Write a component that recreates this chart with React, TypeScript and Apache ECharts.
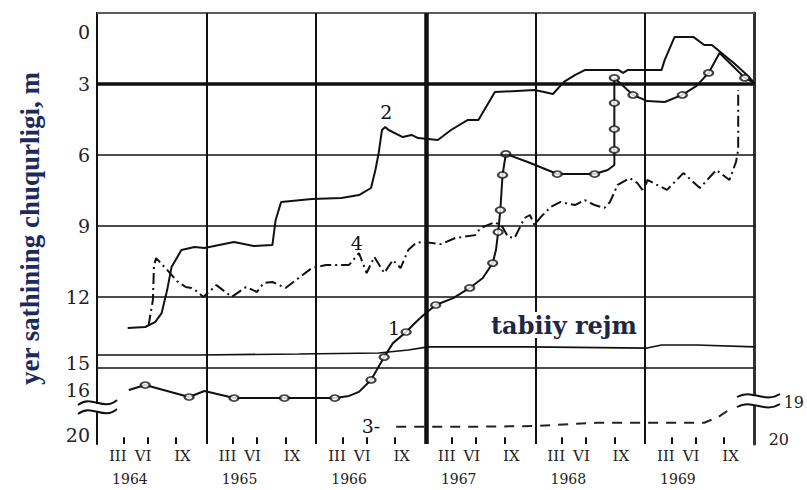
import React, { useEffect, useRef } from "react";
import * as echarts from "echarts";

// ---------- data (x = decimal year, y = depth of groundwater, m) ----------
const years = [1964, 1965, 1966, 1967, 1968, 1969];
const monthLabels = ["III", "VI", "IX"];
const yTickLabels = ["0", "3", "6", "9", "12", "15", "16", "20"];
const yRightLabels = ["19", "20"];

// curve 2 (solid)
const line2 = [
  [1964.28, 13.3], [1964.44, 13.26], [1964.53, 13.05], [1964.59, 12.67], [1964.64, 11.7],
  [1964.68, 10.73], [1964.77, 10.01], [1964.89, 9.88], [1964.98, 9.92], [1965.25, 9.67],
  [1965.43, 9.84], [1965.6, 9.8], [1965.63, 8.74], [1965.68, 7.98], [1965.96, 7.85],
  [1966.23, 7.81], [1966.39, 7.69], [1966.5, 7.39], [1966.54, 6.63], [1966.57, 5.91],
  [1966.6, 4.94], [1966.63, 4.81], [1966.66, 4.94], [1966.79, 5.24], [1966.87, 5.15],
  [1966.93, 5.28], [1967.11, 5.36], [1967.23, 4.94], [1967.38, 4.52], [1967.48, 4.52],
  [1967.63, 3.34], [1967.99, 3.25], [1968.08, 3.34], [1968.16, 3.42], [1968.26, 2.91],
  [1968.36, 2.62], [1968.45, 2.41], [1968.76, 2.41], [1968.8, 2.53], [1968.84, 2.41],
  [1969.15, 2.41], [1969.18, 1.98], [1969.27, 1.01], [1969.44, 1.01], [1969.54, 1.35],
  [1969.61, 1.35], [1969.72, 1.77], [1969.81, 2.11], [1969.93, 2.62], [1970.0, 2.96],
];

// curve 4 (dash-dot)
const line4 = [
  [1964.47, 13.2], [1964.51, 12.12], [1964.52, 10.64], [1964.54, 10.35], [1964.64, 10.85],
  [1964.73, 11.32], [1964.81, 11.57], [1964.86, 11.61], [1964.92, 11.78], [1964.97, 11.99],
  [1965.09, 11.49], [1965.23, 11.99], [1965.36, 11.57], [1965.46, 11.78], [1965.52, 11.4],
  [1965.6, 11.36], [1965.72, 11.61], [1965.84, 11.19], [1965.96, 10.77], [1966.09, 10.64],
  [1966.3, 10.64], [1966.39, 10.14], [1966.46, 10.98], [1966.53, 10.3], [1966.62, 10.98],
  [1966.7, 10.43], [1966.77, 10.77], [1966.84, 10.01], [1966.91, 9.71], [1966.98, 9.67],
  [1967.14, 9.76], [1967.27, 9.5], [1967.45, 9.38], [1967.5, 9.08], [1967.63, 8.83],
  [1967.7, 9.04], [1967.75, 9.46], [1967.81, 9.5], [1967.9, 8.66], [1967.95, 8.53],
  [1967.99, 8.95], [1968.05, 8.61], [1968.14, 8.19], [1968.23, 7.98], [1968.36, 8.11],
  [1968.45, 7.9], [1968.54, 8.11], [1968.63, 8.23], [1968.68, 7.98], [1968.75, 7.26],
  [1968.86, 6.97], [1968.93, 7.18], [1968.99, 7.56], [1969.02, 7.05], [1969.2, 7.47],
  [1969.35, 6.76], [1969.5, 7.39], [1969.65, 6.63], [1969.77, 7.05], [1969.83, 6.29],
  [1969.85, 5.78], [1969.85, 3.25],
];

// curve 1 (solid with observation circles)
const line1 = [
  [1964.29, 16.02], [1964.44, 15.79], [1964.84, 16.35], [1964.98, 16.07], [1965.25, 16.4],
  [1965.71, 16.4], [1966.17, 16.4], [1966.3, 16.3], [1966.39, 16.11], [1966.5, 15.55],
  [1966.62, 14.53], [1966.7, 13.94], [1966.82, 13.47], [1966.91, 13.05], [1966.98, 12.75],
  [1967.09, 12.33], [1967.25, 12.04], [1967.4, 11.61], [1967.52, 11.19], [1967.61, 10.56],
  [1967.64, 10.01], [1967.66, 9.25], [1967.68, 8.32], [1967.7, 6.84], [1967.73, 5.95],
  [1967.93, 6.29], [1968.2, 6.8], [1968.54, 6.8], [1968.66, 6.63], [1968.72, 6.42],
  [1968.72, 5.78], [1968.72, 4.9], [1968.72, 3.8], [1968.72, 2.74], [1968.89, 3.46],
  [1969.02, 3.72], [1969.18, 3.76], [1969.34, 3.46], [1969.47, 3.08], [1969.58, 2.53],
  [1969.68, 1.69], [1969.81, 2.28], [1969.91, 2.74], [1970.0, 2.96],
];
const line1Obs = [
  [1964.44, 15.79], [1964.84, 16.35], [1965.25, 16.4], [1965.71, 16.4], [1966.17, 16.4],
  [1966.5, 15.55], [1966.62, 14.53], [1966.82, 13.47], [1967.09, 12.33], [1967.4, 11.61],
  [1967.61, 10.56], [1967.66, 9.25], [1967.68, 8.32], [1967.7, 6.84], [1967.73, 5.95],
  [1968.2, 6.8], [1968.54, 6.8], [1968.72, 5.78], [1968.72, 4.9], [1968.72, 3.8],
  [1968.72, 2.74], [1968.89, 3.46], [1969.34, 3.46], [1969.58, 2.53], [1969.91, 2.74],
];

// curve 3 (dashed)
const line3 = [
  [1966.73, 19.66], [1966.98, 19.66], [1967.38, 19.66], [1967.99, 19.64], [1968.56, 19.55],
  [1969.54, 19.55], [1969.67, 19.39], [1969.79, 19.15],
];

// natural regime ("tabiiy rejm")
const natural = [
  [1964.0, 14.44], [1964.93, 14.44], [1965.84, 14.4], [1966.57, 14.36], [1966.84, 14.23],
  [1967.02, 14.1], [1967.93, 14.1], [1969.02, 14.15], [1969.15, 14.02], [1969.47, 14.02],
  [1970.0, 14.1],
];

// ---------- broken depth axis ----------
const toDisplay = (d: number) => {
  if (d <= 15) return d;
  if (d <= 16.5) return 15 + (d - 15) * 0.9;
  if (d <= 19) return 16.35 + (d - 16.5) * 0.04;
  return 16.45 + (d - 19) * 1.55;
};
const conv = (arr: number[][]) => arr.map(([x, d]) => [x, toDisplay(d)]);

// layout of tick labels (display units / year fractions)
const yMax = 18.2;
const yLabelPos = [0.8, 3, 6, 9, 12, 14.8, 15.9, 17.8];
const yRightPos = [toDisplay(19), toDisplay(20)];
const tickOffsets = [0.24, 0.46, 0.72];
const labelOffsets = [0.19, 0.42, 0.78];

const serif = "'DejaVu Serif', 'Liberation Serif', serif";
const ink = "#111";

const nearestIdx = (arr: number[], v: number) => {
  let best = 0;
  for (let i = 1; i < arr.length; i++) if (Math.abs(arr[i] - v) < Math.abs(arr[best] - v)) best = i;
  return best;
};

const hLine = (y: number, width: number, color = ink) => ({ yAxis: y, lineStyle: { width, color, type: "solid" } });
const vLine = (x: number, width: number) => ({ xAxis: x, lineStyle: { width, color: ink, type: "solid" } });
const monthTicks = years.flatMap((y) =>
  tickOffsets.map((o) => [
    { coord: [y + o, yMax - 0.28], lineStyle: { width: 2, color: ink, type: "solid" } },
    { coord: [y + o, yMax] },
  ])
);

const option: any = {
  animation: false,
  backgroundColor: "#fff",
  grid: { left: 97, right: 49, top: 13, bottom: 46 },
  xAxis: [
    {
      type: "value", min: 1964, max: 1970, interval: 1,
      axisLine: { show: true, lineStyle: { color: ink, width: 2 } },
      axisTick: { show: false },
      splitLine: { show: false },
      axisLabel: {
        customValues: years.flatMap((y) => labelOffsets.map((o) => y + o)),
        formatter: (v: number) => monthLabels[nearestIdx(labelOffsets, v - Math.floor(v + 1e-6))],
        fontFamily: serif, fontSize: 15, color: "#222", margin: 4,
      },
    },
    {
      type: "value", min: 1964, max: 1970, position: "bottom", offset: 26,
      axisLine: { show: false }, axisTick: { show: false }, splitLine: { show: false },
      axisLabel: {
        customValues: years.map((y) => y + 0.3),
        formatter: (v: number) => String(Math.floor(v)),
        fontFamily: serif, fontSize: 14, color: "#222", margin: 2,
      },
    },
  ],
  yAxis: [
    {
      type: "value", inverse: true, min: 0, max: yMax,
      name: "yer sathining chuqurligi, m", nameLocation: "middle", nameRotate: 90, nameGap: 54,
      nameTextStyle: { fontFamily: "'Liberation Serif', serif", fontWeight: "bold", fontSize: 27, color: "#1c2a5c" },
      axisLine: { show: true, lineStyle: { color: ink, width: 2 } },
      axisTick: { show: false }, splitLine: { show: false },
      axisLabel: {
        customValues: yLabelPos,
        formatter: (v: number) => yTickLabels[nearestIdx(yLabelPos, v)],
        fontFamily: serif, fontSize: 19, color: "#222", margin: 7,
      },
    },
    {
      type: "value", inverse: true, min: 0, max: yMax, position: "right",
      axisLine: { show: true, lineStyle: { color: "#333", width: 3 } },
      axisTick: { show: false }, splitLine: { show: false },
      axisLabel: {
        customValues: yRightPos,
        formatter: (v: number) => {
          const i = nearestIdx(yRightPos, v);
          return i === 0 ? "{a|" + yRightLabels[i] + "}" : yRightLabels[i];
        },
        rich: { a: { padding: [0, 0, 0, 15], fontFamily: serif, fontSize: 16, color: "#222" } },
        fontFamily: serif, fontSize: 16, color: "#222", margin: 14,
      },
    },
  ],
  series: [
    {
      name: "tabiiy rejm", type: "line", data: natural, showSymbol: false, silent: true,
      lineStyle: { color: ink, width: 1.6 },
      markLine: {
        silent: true, symbol: ["none", "none"], label: { show: false },
        data: [
          hLine(0, 1.5, "#777"), hLine(3, 3.5), hLine(6, 1.6), hLine(9, 1.6), hLine(12, 1.6), hLine(15, 1.6),
          vLine(1965, 2), vLine(1966, 2), vLine(1967, 4.5), vLine(1968, 2), vLine(1969, 2),
          ...monthTicks,
        ],
      },
    },
    {
      name: "2", type: "line", data: line2, showSymbol: false, silent: true,
      lineStyle: { color: ink, width: 2 },
      markPoint: {
        symbol: "rect", symbolSize: 1, itemStyle: { color: "rgba(0,0,0,0)" },
        label: { show: true, formatter: "2", fontFamily: serif, fontSize: 19, color: ink },
        data: [{ coord: [1966.64, 4.2] }],
      },
    },
    {
      name: "4", type: "line", data: line4, showSymbol: false, silent: true,
      lineStyle: { color: ink, width: 2, type: [11, 4, 2, 4] },
      markPoint: {
        symbol: "rect", symbolSize: 1, itemStyle: { color: "rgba(0,0,0,0)" },
        label: { show: true, formatter: "4", fontFamily: serif, fontSize: 19, color: ink },
        data: [{ coord: [1966.37, 9.7] }],
      },
    },
    {
      name: "1", type: "line", data: conv(line1), showSymbol: false, silent: true,
      lineStyle: { color: ink, width: 2 },
      markPoint: {
        symbol: "rect", symbolSize: 1, itemStyle: { color: "rgba(0,0,0,0)" },
        label: { show: true, formatter: "1", fontFamily: serif, fontSize: 19, color: ink },
        data: [{ coord: [1966.71, 13.3] }],
      },
    },
    {
      name: "1 obs", type: "scatter", data: conv(line1Obs), silent: true,
      symbol: "emptyCircle", symbolSize: [9, 6],
      itemStyle: { color: ink, borderColor: ink, borderWidth: 1.6 }, z: 3,
    },
    {
      name: "3", type: "line", data: conv(line3), showSymbol: false, silent: true,
      lineStyle: { color: "#222", width: 2, type: [10, 8] },
      markPoint: {
        symbol: "rect", symbolSize: 1, itemStyle: { color: "rgba(0,0,0,0)" },
        label: { show: true, formatter: "3-", fontFamily: serif, fontSize: 19, color: ink },
        data: [{ coord: [1966.5, 17.45] }],
      },
    },
  ],
  graphic: [
    {
      type: "text", left: 488, top: 312, z: 100,
      style: { text: "tabiiy rejm", font: "bold 24px 'DejaVu Serif'", fill: "#1d2748", backgroundColor: "#fff", padding: [1, 3] },
    },
    { type: "rect", z: 100, shape: { x: 88, y: 404, width: 16, height: 7 }, style: { fill: "#fff" } },
    { type: "bezierCurve", z: 101, shape: { x1: 78, y1: 405, cpx1: 92, cpy1: 394, cpx2: 103, cpy2: 412, x2: 117, y2: 400 }, style: { stroke: ink, lineWidth: 2, fill: null } },
    { type: "bezierCurve", z: 101, shape: { x1: 78, y1: 414, cpx1: 92, cpy1: 403, cpx2: 103, cpy2: 421, x2: 117, y2: 409 }, style: { stroke: ink, lineWidth: 2, fill: null } },
    { type: "rect", z: 100, shape: { x: 750, y: 396, width: 16, height: 9 }, style: { fill: "#fff" } },
    { type: "bezierCurve", z: 101, shape: { x1: 737, y1: 397, cpx1: 752, cpy1: 388, cpx2: 764, cpy2: 404, x2: 780, y2: 394 }, style: { stroke: ink, lineWidth: 2, fill: null } },
    { type: "bezierCurve", z: 101, shape: { x1: 737, y1: 407, cpx1: 752, cpy1: 398, cpx2: 764, cpy2: 414, x2: 780, y2: 404 }, style: { stroke: ink, lineWidth: 2, fill: null } },
  ],
};

export default function App() {
  const ref = useRef<HTMLDivElement>(null);
  useEffect(() => {
    const chart = echarts.init(ref.current!, null, { renderer: "svg" });
    chart.setOption(option);
    return () => chart.dispose();
  }, []);
  return (
    <div
      ref={ref}
      style={{ position: "fixed", left: 0, top: 0, width: 807, height: 490, background: "#fff" }}
    />
  );
}
